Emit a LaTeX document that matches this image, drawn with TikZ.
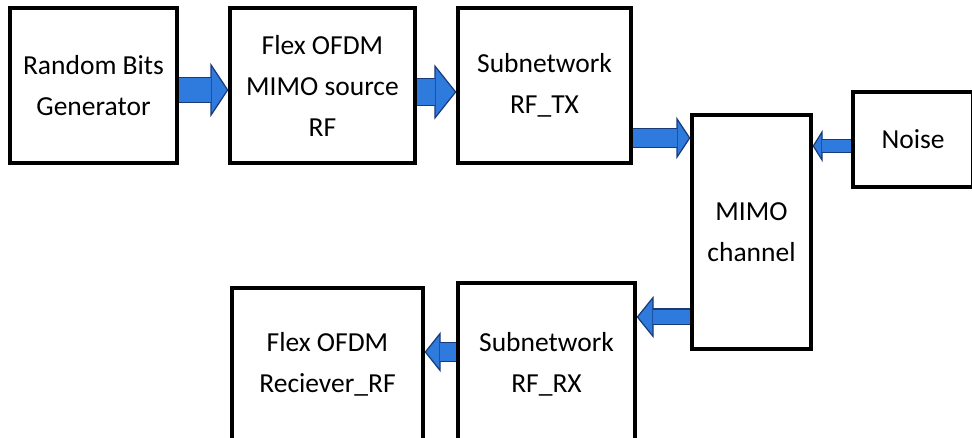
\documentclass[tikz,border=0pt]{standalone}
\usepackage{fontspec}
\setmainfont{Carlito}
\usepackage{xcolor}
\usepackage{tikz}
\usetikzlibrary{arrows.meta,positioning}

\definecolor{arrowfill}{RGB}{46,122,221}
\definecolor{arrowedge}{RGB}{24,58,120}

\tikzset{
  blk/.style={draw,line width=3.2pt,inner sep=0pt,align=center,font=\fontsize{27.5}{41}\selectfont},
  flow/.style n args={3}{draw=arrowedge,line width=#1,
    -{Triangle[length=#3,width=#2,fill=arrowfill,line width=1.2pt]},
    postaction={draw=arrowfill,line width=#1-2.4pt,-,shorten >=#3-1pt}}
}

\begin{document}
\begin{tikzpicture}[x=1pt,y=-1pt]
\useasboundingbox (0,0) rectangle (972,438);
\clip (0,0) rectangle (972,438);

\node[blk,minimum width=167pt,minimum height=155pt] (rbg) at (93.5,85.5) {Random Bits\\Generator};
\node[blk,minimum width=185pt,minimum height=155pt] (src) at (322.5,85.5) {Flex OFDM\\MIMO source\\RF};
\node[blk,minimum width=173pt,minimum height=155pt] (tx) at (544.5,85.5) {Subnetwork\\RF\_TX};
\node[blk,minimum width=119pt,minimum height=234pt] (chan) at (751.5,232) {MIMO\\channel};
\node[blk,minimum width=120pt,minimum height=95pt] (noise) at (913,139.5) {Noise};
\node[blk,minimum width=177pt,minimum height=163pt] (rx) at (546.5,364.5) {Subnetwork\\RF\_RX};
\node[blk,minimum width=191pt,minimum height=152pt] (rcv) at (327.5,364) {Flex OFDM\\Reciever\_RF};

% left to right
\foreach \a/\b/\y/\s/\w/\l in {rbg/src/90/26pt/54pt/18pt, src/tx/92/28pt/55pt/22pt, tx/chan/138/20pt/42pt/14pt}
  \draw[flow={\s}{\w}{\l}] (\a.east |- 0,\y) -- (\b.west |- 0,\y);
% right to left
\foreach \a/\b/\y/\s/\w/\l in {noise/chan/146/14pt/32pt/10pt, chan/rx/317/17pt/42pt/17pt, rx/rcv/352/20pt/40pt/16pt}
  \draw[flow={\s}{\w}{\l}] (\a.west |- 0,\y) -- (\b.east |- 0,\y);
\end{tikzpicture}
\end{document}
